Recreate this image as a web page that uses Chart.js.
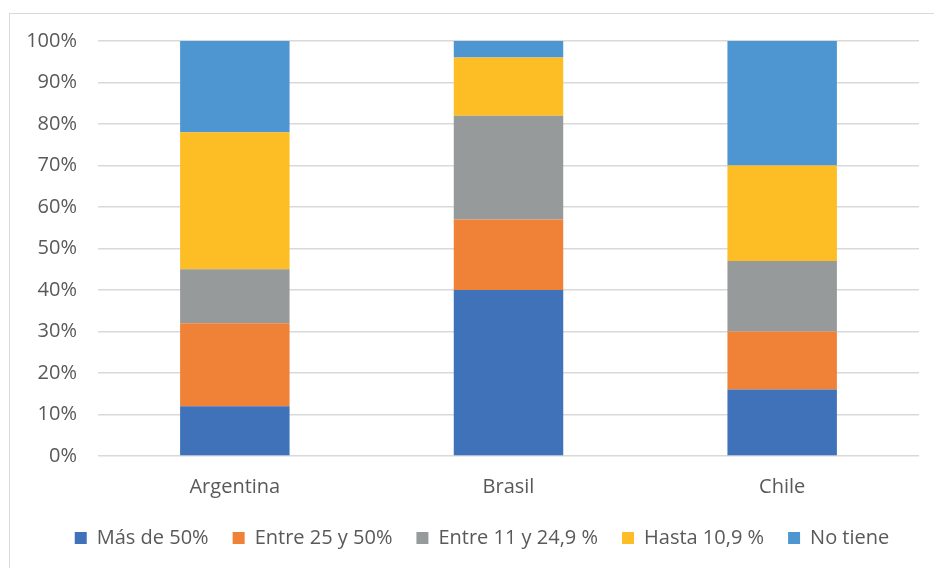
<!DOCTYPE html>
<html>
<head>
<meta charset="utf-8">
<script src="https://cdn.jsdelivr.net/npm/chart.js@4/dist/chart.umd.min.js"></script>
<style>
  html, body { margin: 0; padding: 0; background: #fff; }
  #marco {
    position: absolute; left: 9px; top: 13px;
    width: 930px; height: 560px;
    border: 1px solid #d9d9d9;
  }
  #caja { position: absolute; left: 0; top: 0; width: 924px; height: 554px; }
</style>
</head>
<body>
<div id="marco"><div id="caja"><canvas id="grafico"></canvas></div></div>
<script>
var paises = ["Argentina", "Brasil", "Chile"];
var series = ["Más de 50%", "Entre 25 y 50%", "Entre 11 y 24,9 %", "Hasta 10,9 %", "No tiene"];
var masDe50   = [12, 40, 16];
var entre25   = [20, 17, 14];
var entre11   = [13, 25, 17];
var hasta10   = [33, 14, 23];
var noTiene   = [22, 4, 30];
var colores = ["#3f72b9", "#f08238", "#969a9b", "#fdbd24", "#4e96d1"];

var valores = [masDe50, entre25, entre11, hasta10, noTiene];
var datasets = [];
for (var i = 0; i < series.length; i++) {
    datasets.push({
        label: series[i],
        data: valores[i],
        backgroundColor: colores[i],
        borderWidth: 0,
        barPercentage: 0.4,
        categoryPercentage: 1
    });
}

var fuente = "'Open Sans', sans-serif";
var gris = "#595959";

// corre la leyenda un poco a la derecha, como en el original
var moverLeyenda = {
    id: "moverLeyenda",
    afterLayout: function(chart) {
        chart.legend.left += 9;
        chart.legend.right += 9;
    }
};

new Chart(document.getElementById("grafico"), {
    type: "bar",
    data: { labels: paises, datasets: datasets },
    plugins: [moverLeyenda],
    options: {
        responsive: true,
        maintainAspectRatio: false,
        animation: false,
        layout: { padding: { left: 17, right: 15, top: 27, bottom: 10 } },
        plugins: {
            tooltip: { enabled: false },
            legend: {
                position: "bottom",
                labels: {
                    boxWidth: 12,
                    boxHeight: 12,
                    padding: 24,
                    color: gris,
                    font: { family: fuente, size: 20 }
                }
            }
        },
        scales: {
            x: {
                stacked: true,
                afterFit: function(scale) { scale.height -= 6; },
                grid: { display: false },
                border: { display: false },
                ticks: { color: gris, font: { family: fuente, size: 20 }, padding: 11 }
            },
            y: {
                stacked: true,
                min: 0,
                max: 100,
                afterFit: function(scale) {
                    scale.width = 71;
                    scale.paddingTop = 0;
                    scale.paddingBottom = 0;
                },
                grid: { color: "#d9d9d9", lineWidth: 1.5, drawTicks: false },
                border: { display: false },
                ticks: {
                    stepSize: 10,
                    padding: 21,
                    color: gris,
                    font: { family: fuente, size: 20 },
                    callback: function(v) { return v + "%"; }
                }
            }
        }
    }
});
</script>
</body>
</html>
